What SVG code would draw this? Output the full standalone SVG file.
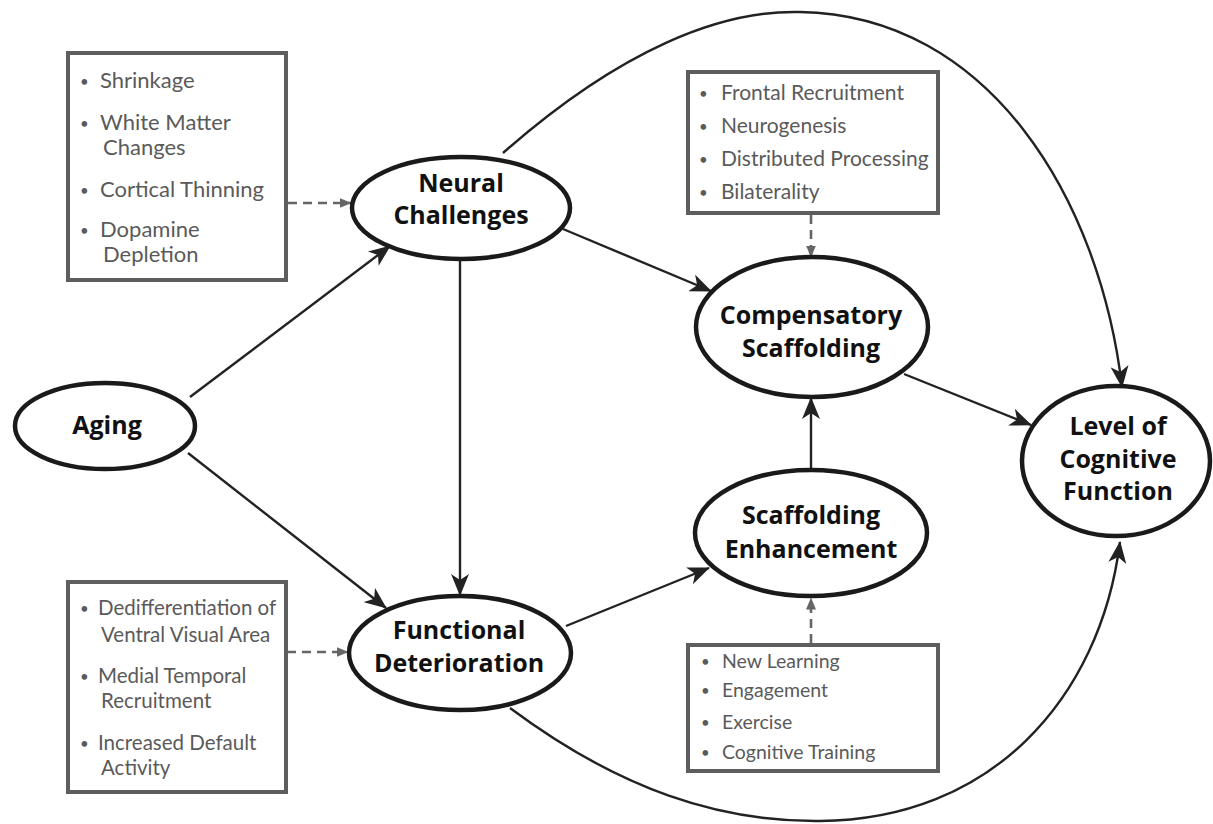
<svg xmlns="http://www.w3.org/2000/svg" width="1213" height="824" viewBox="0 0 1213 824">
<defs>
<style>
.node ellipse{fill:#fff;stroke:#1a1a1a;stroke-width:4.5}
.node text{font-family:"Open Sans","Noto Sans","Liberation Sans",sans-serif;font-weight:bold;font-size:25px;fill:#111;text-anchor:middle}
.box rect{fill:#fff;stroke:#5e5e5e;stroke-width:4}
.box text{font-family:Lato,"Open Sans","Liberation Sans",sans-serif;fill:#5a5a5a}
.box .b{font-size:15px}
.conn{fill:none;stroke:#222;stroke-width:2.4}
.dash{fill:none;stroke:#666;stroke-width:2.6;stroke-dasharray:9 6}
</style>
<marker id="ah" viewBox="0 0 22 18" refX="21" refY="9" markerWidth="22" markerHeight="18" markerUnits="userSpaceOnUse" orient="auto">
<path d="M0,0 L22,9 L0,18 L6,9 Z" fill="#222"/>
</marker>
<marker id="ahg" viewBox="0 0 12 10" refX="11.5" refY="5" markerWidth="12" markerHeight="10" markerUnits="userSpaceOnUse" orient="auto">
<path d="M0,0 L12,5 L0,10 Z" fill="#666"/>
</marker>
</defs>
<rect width="1213" height="824" fill="#fff"/>

<g id="connectors">
<line class="conn" x1="190" y1="397" x2="390" y2="246" marker-end="url(#ah)"/>
<line class="conn" x1="188" y1="453" x2="386" y2="608" marker-end="url(#ah)"/>
<line class="conn" x1="460" y1="260" x2="460" y2="595" marker-end="url(#ah)"/>
<line class="conn" x1="563" y1="229" x2="711" y2="291" marker-end="url(#ah)"/>
<line class="conn" x1="566" y1="626" x2="709" y2="568" marker-end="url(#ah)"/>
<line class="conn" x1="811" y1="470" x2="811" y2="398" marker-end="url(#ah)"/>
<line class="conn" x1="904" y1="374" x2="1031" y2="425" marker-end="url(#ah)"/>
<path class="conn" d="M503,153 C620,50 720,10 800,12 C990,15 1100,200 1122,387" marker-end="url(#ah)"/>
<path class="conn" d="M510,708 C620,790 720,822 820,821 C990,820 1100,700 1120,542" marker-end="url(#ah)"/>
<line class="dash" x1="288" y1="203" x2="351" y2="203" marker-end="url(#ahg)"/>
<line class="dash" x1="287" y1="652" x2="348" y2="652" marker-end="url(#ahg)"/>
<line class="dash" x1="811" y1="215" x2="811" y2="257" marker-end="url(#ahg)"/>
<line class="dash" x1="811" y1="643" x2="811" y2="598" marker-end="url(#ahg)"/>
</g>

<g id="box-neural" class="box">
<rect x="68" y="53" width="218" height="227"/>
<text font-size="22px">
<tspan class="b" x="80" y="87">•</tspan><tspan x="100" y="88">Shrinkage</tspan>
<tspan class="b" x="80" y="129">•</tspan><tspan x="100" y="130">White Matter</tspan>
<tspan x="103" y="155">Changes</tspan>
<tspan class="b" x="80" y="196">•</tspan><tspan x="100" y="197">Cortical Thinning</tspan>
<tspan class="b" x="80" y="236">•</tspan><tspan x="100" y="237">Dopamine</tspan>
<tspan x="103" y="262">Depletion</tspan>
</text>
</g>

<g id="box-functional" class="box">
<rect x="68" y="582" width="218" height="210"/>
<text font-size="20.5px">
<tspan class="b" x="80" y="614">•</tspan><tspan x="98" y="615">Dedifferentiation of</tspan>
<tspan x="101" y="642">Ventral Visual Area</tspan>
<tspan class="b" x="80" y="682">•</tspan><tspan x="98" y="683">Medial Temporal</tspan>
<tspan x="101" y="708">Recruitment</tspan>
<tspan class="b" x="80" y="749">•</tspan><tspan x="98" y="750">Increased Default</tspan>
<tspan x="101" y="775">Activity</tspan>
</text>
</g>

<g id="box-compensatory" class="box">
<rect x="688" y="72" width="250" height="141"/>
<text font-size="21px">
<tspan class="b" x="699" y="99">•</tspan><tspan x="721" y="100">Frontal Recruitment</tspan>
<tspan class="b" x="699" y="132">•</tspan><tspan x="721" y="133">Neurogenesis</tspan>
<tspan class="b" x="699" y="165">•</tspan><tspan x="721" y="166">Distributed Processing</tspan>
<tspan class="b" x="699" y="198">•</tspan><tspan x="721" y="199">Bilaterality</tspan>
</text>
</g>

<g id="box-enhancement" class="box">
<rect x="688" y="645" width="250" height="126"/>
<text font-size="19.5px">
<tspan class="b" x="701" y="667">•</tspan><tspan x="722" y="668">New Learning</tspan>
<tspan class="b" x="701" y="696">•</tspan><tspan x="722" y="697">Engagement</tspan>
<tspan class="b" x="701" y="728">•</tspan><tspan x="722" y="729">Exercise</tspan>
<tspan class="b" x="701" y="758">•</tspan><tspan x="722" y="759">Cognitive Training</tspan>
</text>
</g>

<g id="node-aging" class="node">
<ellipse cx="105" cy="426" rx="90" ry="43"/>
<text x="107" y="434">Aging</text>
</g>

<g id="node-neural" class="node">
<ellipse cx="461" cy="208" rx="109" ry="51"/>
<text x="461" y="192">Neural</text>
<text x="461" y="224">Challenges</text>
</g>

<g id="node-functional" class="node">
<ellipse cx="460" cy="653" rx="111" ry="57"/>
<text x="459" y="639">Functional</text>
<text x="459" y="672">Deterioration</text>
</g>

<g id="node-compensatory" class="node">
<ellipse cx="812" cy="327" rx="116" ry="70"/>
<text x="811" y="324">Compensatory</text>
<text x="811" y="357">Scaffolding</text>
</g>

<g id="node-enhancement" class="node">
<ellipse cx="811" cy="533" rx="116" ry="63"/>
<text x="811" y="524">Scaffolding</text>
<text x="811" y="558">Enhancement</text>
</g>

<g id="node-level" class="node">
<ellipse cx="1116" cy="461" rx="94" ry="75"/>
<text x="1118" y="435">Level of</text>
<text x="1118" y="468">Cognitive</text>
<text x="1118" y="500">Function</text>
</g>
</svg>
